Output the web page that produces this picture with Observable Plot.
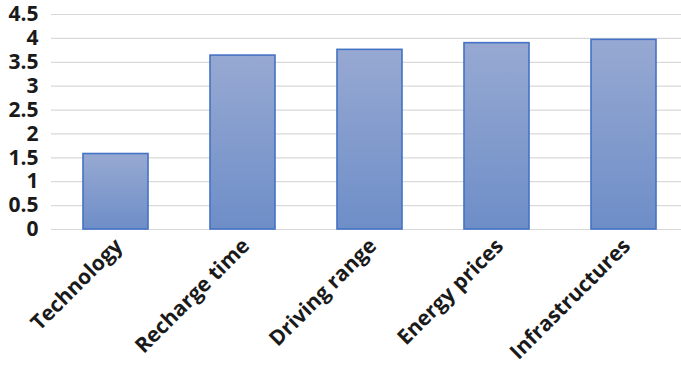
<!DOCTYPE html>
<html>
<head>
<meta charset="utf-8">
<script src="https://cdn.jsdelivr.net/npm/d3@7"></script>
<script src="https://cdn.jsdelivr.net/npm/@observablehq/plot@0.6"></script>
<style>
  html, body { margin: 0; padding: 0; background: #fff; }
  svg { display: block; }
</style>
</head>
<body>
<div id="chart"></div>
<script>
const categories = ["Technology", "Recharge time", "Driving range", "Energy prices", "Infrastructures"];
const values = [1.58, 3.64, 3.76, 3.90, 3.97];
const yTicks = [0, 0.5, 1, 1.5, 2, 2.5, 3, 3.5, 4, 4.5];

const data = categories.map((c, i) => ({category: c, value: values[i]}));

const chart = Plot.plot({
  width: 681,
  height: 366,
  marginTop: 14,
  marginBottom: 137,
  marginLeft: 51,
  marginRight: 0,
  style: {fontFamily: "'Open Sans', sans-serif", fontWeight: "bold", fontSize: "20px", color: "#1a1a1a"},
  x: {domain: categories, range: [51, 688], paddingInner: 0.49, paddingOuter: 0.245},
  y: {domain: [0, 4.5]},
  marks: [
    Plot.ruleY(yTicks, {stroke: "#d9d9d9", strokeWidth: 1.2}),
    Plot.barY(data, {x: "category", y: "value", fill: "url(#barGrad)", stroke: "#4472c4", strokeWidth: 1.6}),
    Plot.axisY({ticks: yTicks, tickSize: 0, tickPadding: 13, label: null, fontSize: 21, fontWeight: "bold", tickFormat: d => String(d)}),
    Plot.axisX({tickSize: 0, tickRotate: -45, tickPadding: 13, dx: 3, label: null, fontSize: 21, fontWeight: "bold"})
  ]
});

const svg = d3.select(chart);
const defs = svg.insert("defs", ":first-child");
const grad = defs.append("linearGradient").attr("id", "barGrad")
  .attr("x1", 0).attr("y1", 0).attr("x2", 0).attr("y2", 1);
grad.append("stop").attr("offset", "0%").attr("stop-color", "#97a9d2");
grad.append("stop").attr("offset", "100%").attr("stop-color", "#6e8ec8");

document.getElementById("chart").appendChild(chart);
</script>
</body>
</html>
